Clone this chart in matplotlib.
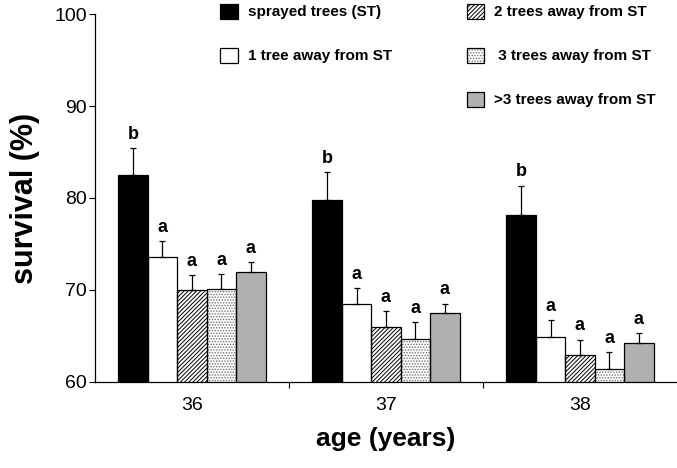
import matplotlib
matplotlib.use("Agg")
import matplotlib.pyplot as plt
import numpy as np
from matplotlib.patches import Patch
from matplotlib.legend_handler import HandlerTuple

plt.rcParams['font.family'] = ['Liberation Sans', 'DejaVu Sans']
plt.rcParams['hatch.linewidth'] = 0.7

# data
ages = ["36", "37", "38"]
series = ["sprayed trees (ST)", "1 tree away from ST", "2 trees away from ST",
          " 3 trees away from ST", ">3 trees away from ST"]
survival = [
    [82.5, 79.8, 78.2],   # sprayed trees
    [73.6, 68.5, 64.9],   # 1 tree away
    [70.0, 66.0, 62.9],   # 2 trees away
    [70.1, 64.7, 61.4],   # 3 trees away
    [72.0, 67.5, 64.2],   # >3 trees away
]
errors = [
    [2.9, 3.0, 3.1],
    [1.7, 1.7, 1.8],
    [1.6, 1.7, 1.7],
    [1.6, 1.8, 1.8],
    [1.0, 1.0, 1.1],
]
letters = [
    ["b", "b", "b"],
    ["a", "a", "a"],
    ["a", "a", "a"],
    ["a", "a", "a"],
    ["a", "a", "a"],
]

face = ["black", "white", "white", "white", "#b0b0b0"]
hatches = [None, None, "////////", "......", None]
hatch_col = ["black", "black", "black", "#707070", "black"]

fig = plt.figure(figsize=(6.77, 4.68), dpi=100)
ax = fig.add_axes([0.1403, 0.184, 0.8597, 0.786])

x = np.arange(len(ages))
w = 0.152
for i in range(len(series)):
    xs = x + (i - 2) * w
    # fill + hatch, then black outline on top
    ax.bar(xs, survival[i], w, color=face[i], edgecolor=hatch_col[i],
           linewidth=0, hatch=hatches[i], zorder=2)
    ax.bar(xs, survival[i], w, color="none", edgecolor="black",
           linewidth=0.9, zorder=2.5)
    ax.errorbar(xs, survival[i], yerr=[np.zeros(3), errors[i]], fmt="none",
                ecolor="black", elinewidth=0.9, capsize=2.5, capthick=0.9, zorder=3)
    for j in range(len(ages)):
        ax.annotate(letters[i][j], (xs[j], survival[i][j] + errors[i][j]),
                    xytext=(0, 4), textcoords="offset points", ha="center",
                    va="bottom", fontsize=13, fontweight="bold")

ax.set_ylim(60, 100)
ax.set_xlim(-0.5, 2.5)
ax.set_yticks([60, 70, 80, 90, 100])
ax.set_xticks(x)
ax.set_xticklabels(ages)
ax.set_xticks([0.5, 1.5], minor=True)
ax.tick_params(axis="x", which="major", length=0, labelsize=14, pad=11)
ax.tick_params(axis="x", which="minor", length=4, direction="out", width=0.8)
ax.tick_params(axis="y", length=4, direction="out", width=0.8, labelsize=14, pad=2)
for s in ["top", "right"]:
    ax.spines[s].set_visible(False)
for s in ["left", "bottom"]:
    ax.spines[s].set_linewidth(0.9)

ax.set_ylabel("survival (%)", fontsize=22, fontweight="bold", labelpad=10)
ax.set_xlabel("age (years)", fontsize=19, fontweight="bold", labelpad=9)

handles = [(Patch(facecolor=face[i], edgecolor=hatch_col[i], hatch=hatches[i], linewidth=0),
            Patch(facecolor="none", edgecolor="black", linewidth=0.9))
           for i in range(len(series))]
blank = Patch(facecolor="none", edgecolor="none")
leg_handles = [handles[0], handles[1], blank, handles[2], handles[3], handles[4]]
leg_labels = [series[0], series[1], "", series[2], series[3], series[4]]
ax.legend(leg_handles, leg_labels, ncol=2, loc="upper left",
          bbox_to_anchor=(0.205, 1.045), frameon=False,
          prop={"weight": "bold", "size": 11},
          handler_map={tuple: HandlerTuple(ndivide=1, pad=0)},
          handlelength=1.15, handleheight=1.15, handletextpad=0.65,
          labelspacing=1.85, columnspacing=4.9, borderaxespad=0)

fig.savefig("out.png", dpi=100)
